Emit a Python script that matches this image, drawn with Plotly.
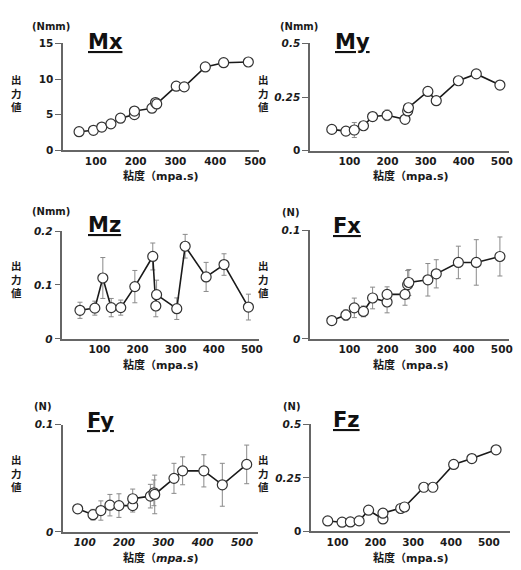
import plotly.graph_objects as go

# ---------------- data ----------------
mx_x = [58, 94, 115, 138, 162, 197, 197, 241, 250, 253, 302, 322, 375, 421, 483]
mx_y = [2.6, 2.8, 3.25, 3.7, 4.5, 5.0, 5.5, 5.9, 6.7, 6.5, 9.0, 8.9, 11.7, 12.3, 12.4]
mx_e = [0.15, 0.15, 0.2, 0.2, 0.2, 0.25, 0.25, 0.25, 0.3, 0.3, 0.3, 0.3, 0.3, 0.3, 0.3]

my_x = [54, 91, 113, 137, 161, 199, 246, 253, 255, 306, 328, 386, 433, 495]
my_y = [0.099, 0.091, 0.096, 0.116, 0.159, 0.165, 0.146, 0.185, 0.2, 0.276, 0.233, 0.326, 0.358, 0.306]
my_e = [0.005, 0.005, 0.035, 0.008, 0.008, 0.025, 0.008, 0.01, 0.01, 0.01, 0.01, 0.012, 0.01, 0.01]

mz_x = [49, 88, 109, 131, 156, 193, 240, 248, 250, 303, 325, 380, 427, 491]
mz_y = [0.053, 0.057, 0.113, 0.058, 0.058, 0.097, 0.153, 0.061, 0.082, 0.056, 0.172, 0.115, 0.138, 0.059]
mz_e = [0.015, 0.013, 0.038, 0.017, 0.014, 0.03, 0.025, 0.02, 0.027, 0.02, 0.022, 0.027, 0.02, 0.024]

fx_x = [54, 91, 113, 137, 161, 199, 199, 246, 253, 256, 306, 328, 386, 433, 495]
fx_y = [0.0169, 0.022, 0.0286, 0.0253, 0.0377, 0.034, 0.041, 0.041, 0.05, 0.052, 0.0545, 0.06, 0.0705, 0.0705, 0.076]
fx_e = [0.003, 0.005, 0.009, 0.005, 0.01, 0.01, 0.007, 0.01, 0.013, 0.012, 0.015, 0.013, 0.015, 0.021, 0.018]

fy_x = [82, 121, 141, 164, 187, 222, 222, 267, 276, 278, 327, 349, 403, 450, 512]
fy_y = [0.0216, 0.0161, 0.02, 0.025, 0.0246, 0.0246, 0.031, 0.0334, 0.0365, 0.035, 0.05, 0.057, 0.057, 0.044, 0.063]
fy_e = [0.003, 0.005, 0.009, 0.01, 0.011, 0.006, 0.009, 0.011, 0.012, 0.018, 0.014, 0.013, 0.015, 0.02, 0.018]

fz_x = [74, 112, 134, 157, 182, 220, 220, 267, 277, 328, 352, 407, 455, 519]
fz_y = [0.0488, 0.043, 0.044, 0.049, 0.099, 0.058, 0.085, 0.107, 0.114, 0.206, 0.206, 0.3125, 0.34, 0.381]
fz_e = [0.003, 0.003, 0.003, 0.003, 0.005, 0.005, 0.005, 0.005, 0.005, 0.005, 0.005, 0.005, 0.005, 0.005]

x_ticks = [100, 200, 300, 400, 500]
x_title = "粘度（mpa.s)"
y_title = "出<br>力<br>値"

# ---------------- layout helpers ----------------
W, H = 521, 570
def px(x):
    return x / W
def py(y):
    return 1 - y / H

FONT = "DejaVu Sans, Verdana, Noto Sans CJK JP, sans-serif"
CJK = "Noto Sans CJK JP, DejaVu Sans, sans-serif"
TXT = "#1a1a1a"

panels = [
    dict(name="Mx", unit="(Nmm)", x=mx_x, y=mx_y, e=mx_e,
         dom=(64, 263, 38.3, 147.3), xr=(18, 511), yr=(0, 15),
         yt=[0, 5, 10, 15], ytt=["0", "5", "10", "15"], xital=False,
         title=(106.5, 36.5), unitpos=(51.7, 21), ytpos=(16.7, 89), xtpos=(163, 174)),
    dict(name="My", unit="(Nmm)", x=my_x, y=my_y, e=my_e,
         dom=(314.3, 516, 38.3, 147.7), xr=(-3, 519), yr=(0, 0.5),
         yt=[0, 0.25, 0.5], ytt=["0", "<i>0.25</i>", "<i>0.5</i>"], xital=False,
         title=(357, 37), unitpos=(303, 20.5), ytpos=(266.7, 89), xtpos=(417, 174)),
    dict(name="Mz", unit="(Nmm)", x=mz_x, y=mz_y, e=mz_e,
         dom=(63.3, 263, 230, 340), xr=(3, 520), yr=(0, 0.2),
         yt=[0, 0.1, 0.2], ytt=["<i>0</i>", "<i>0.1</i>", "<i>0.2</i>"], xital=False,
         title=(105.5, 223.5), unitpos=(51.7, 210), ytpos=(16.7, 279), xtpos=(163, 367)),
    dict(name="Fx", unit="(N)", x=fx_x, y=fx_y, e=fx_e,
         dom=(314.3, 516, 229.3, 340), xr=(-3, 519), yr=(0, 0.1),
         yt=[0, 0.1], ytt=["<i>0</i>", "<i>0.1</i>"], xital=False,
         title=(352, 224.5), unitpos=(295.3, 210.7), ytpos=(266.7, 279), xtpos=(417, 367)),
    dict(name="Fy", unit="(N)", x=fy_x, y=fy_y, e=fy_e,
         dom=(64, 262, 427.7, 537.3), xr=(45, 542), yr=(0, 0.1),
         yt=[0, 0.1], ytt=["<i>0</i>", "<i>0.1</i>"], xital=True,
         title=(101.7, 424), unitpos=(44, 409.3), ytpos=(16.7, 477), xtpos=(163, 564)),
    dict(name="Fz", unit="(N)", x=fz_x, y=fz_y, e=fz_e,
         dom=(315.3, 517, 427.3, 536.7), xr=(30, 556), yr=(0, 0.5),
         yt=[0, 0.25, 0.5], ytt=["0", "<i>0.25</i>", "<i>0.5</i>"], xital=False,
         title=(351.6, 423), unitpos=(296, 409.3), ytpos=(266.7, 477), xtpos=(417, 564)),
]

fig = go.Figure()
annotations = []
layout = dict(width=W, height=H, margin=dict(l=0, r=0, t=0, b=0),
              paper_bgcolor="white", plot_bgcolor="white", showlegend=False)

for i, p in enumerate(panels):
    k = "" if i == 0 else str(i + 1)
    x0, x1, ytop, ybot = p["dom"]
    fig.add_trace(go.Scatter(
        x=p["x"], y=p["y"], mode="lines+markers",
        xaxis="x" + k, yaxis="y" + k,
        line=dict(color="#1a1a1a", width=1.6),
        marker=dict(size=10, color="white", line=dict(color="#333333", width=1.2)),
        error_y=dict(type="data", array=p["e"], visible=True, color="#8a8a8a",
                     thickness=1, width=2.5),
        cliponaxis=False,
    ))
    xtt = [("<i>%d</i>" % v) if p["xital"] else str(v) for v in x_ticks]
    layout["xaxis" + k] = dict(
        domain=[px(x0), px(x1)], range=list(p["xr"]), anchor="y" + k,
        showgrid=False, zeroline=False, showline=True, linecolor="#666666", linewidth=1.5,
        ticks="", tickvals=x_ticks, ticktext=xtt,
        tickfont=dict(family=FONT, size=10.5, color=TXT, weight="bold"),
        fixedrange=True,
    )
    layout["yaxis" + k] = dict(
        domain=[py(ybot), py(ytop)], range=list(p["yr"]), anchor="x" + k,
        showgrid=False, zeroline=False, showline=True, linecolor="#666666", linewidth=1.5,
        ticks="outside", ticklen=6, tickcolor="#666666", tickwidth=1.2,
        tickvals=p["yt"], ticktext=p["ytt"],
        tickfont=dict(family=FONT, size=10.5, color=TXT, weight="bold"),
        fixedrange=True,
    )
    annotations.append(dict(
        text="<u>%s</u>" % p["name"], x=px(p["title"][0]), y=py(p["title"][1]),
        xref="paper", yref="paper", xanchor="center", yanchor="middle", showarrow=False,
        font=dict(family=FONT, size=21, color="#111111", weight="bold")))
    annotations.append(dict(
        text=p["unit"], x=px(p["unitpos"][0]), y=py(p["unitpos"][1]),
        xref="paper", yref="paper", xanchor="center", yanchor="middle", showarrow=False,
        font=dict(family=FONT, size=10, color=TXT, weight="bold")))
    annotations.append(dict(
        text=y_title, x=px(p["ytpos"][0]), y=py(p["ytpos"][1]),
        xref="paper", yref="paper", xanchor="center", yanchor="middle", showarrow=False,
        font=dict(family=CJK, size=10.5, color=TXT, weight="bold")))
    xt = "粘度（<i>mpa.s</i>)" if p["xital"] else x_title
    annotations.append(dict(
        text=xt, x=px(p["xtpos"][0]), y=py(p["xtpos"][1]),
        xref="paper", yref="paper", xanchor="center", yanchor="middle", showarrow=False,
        font=dict(family=FONT, size=11, color=TXT, weight="bold")))

layout["annotations"] = annotations
fig.update_layout(**layout)

post = (
    "var h=document.documentElement.style;h.margin='0';h.padding='0';h.overflow='hidden';"
    "var b=document.body.style;b.margin='0';b.padding='0';b.overflow='hidden';"
    "b.width='521px';b.height='570px';"
    "var gd=document.getElementById('{plot_id}');"
    "gd.style.position='absolute';gd.style.left='0px';gd.style.top='0px';"
)
fig.write_html("out.html", config={"displayModeBar": False}, post_script=post)
